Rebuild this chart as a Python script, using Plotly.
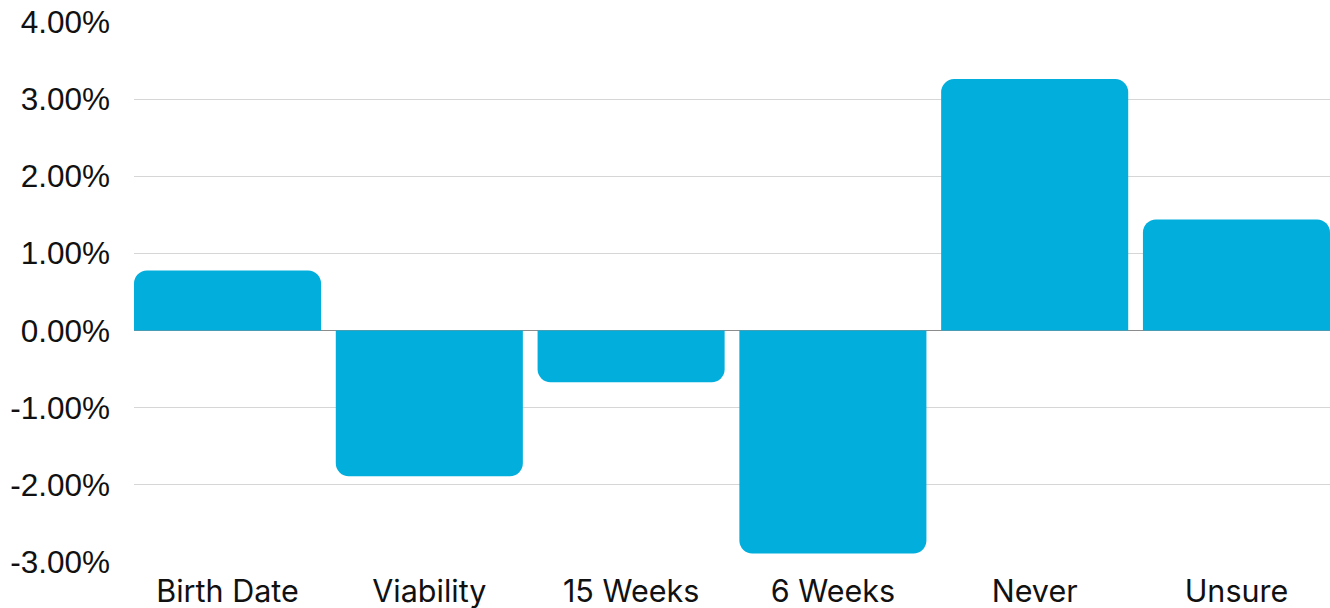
import plotly.graph_objects as go

categories = ["Birth Date", "Viability", "15 Weeks", "6 Weeks", "Never", "Unsure"]
values = [0.0078, -0.0189, -0.0067, -0.0289, 0.0326, 0.0144]
tick_vals = [-0.03, -0.02, -0.01, 0.0, 0.01, 0.02, 0.03, 0.04]
tick_text = ["-3.00%", "-2.00%", "-1.00%", "0.00%", "1.00%", "2.00%", "3.00%", "4.00%"]

bar_color = "#02AEDC"
bargap = 0.073

fig = go.Figure(
    go.Bar(
        x=list(range(len(categories))),
        y=values,
        marker=dict(color=bar_color, cornerradius=13, line=dict(width=0)),
        hoverinfo="skip",
    )
)

half = (1 - bargap) / 2
fig.update_layout(
    width=1330,
    height=608,
    margin=dict(l=134, r=0, t=22, b=46),
    paper_bgcolor="white",
    plot_bgcolor="white",
    bargap=bargap,
    showlegend=False,
    font=dict(family="Liberation Sans, Arial, sans-serif", size=29, color="#111111"),
)
fig.update_xaxes(
    range=[-half, len(categories) - 1 + half],
    tickmode="array",
    tickvals=list(range(len(categories))),
    ticktext=categories,
    tickfont=dict(family="Inter, sans-serif", size=30.5, color="#111111"),
    showgrid=False,
    showline=False,
    zeroline=False,
    ticks="",
    ticklabelstandoff=8,
)
fig.update_yaxes(
    range=[-0.03, 0.04],
    tickmode="array",
    tickvals=tick_vals,
    ticktext=tick_text,
    tickfont=dict(family="Liberation Sans, Arial, sans-serif", size=31.5, color="#111111"),
    showgrid=True,
    gridcolor="#D6D6D6",
    gridwidth=1,
    zeroline=True,
    zerolinecolor="#8C8C8C",
    zerolinewidth=1,
    showline=False,
    ticks="",
    ticklabelstandoff=23,
)

fig.write_html("out.html")
